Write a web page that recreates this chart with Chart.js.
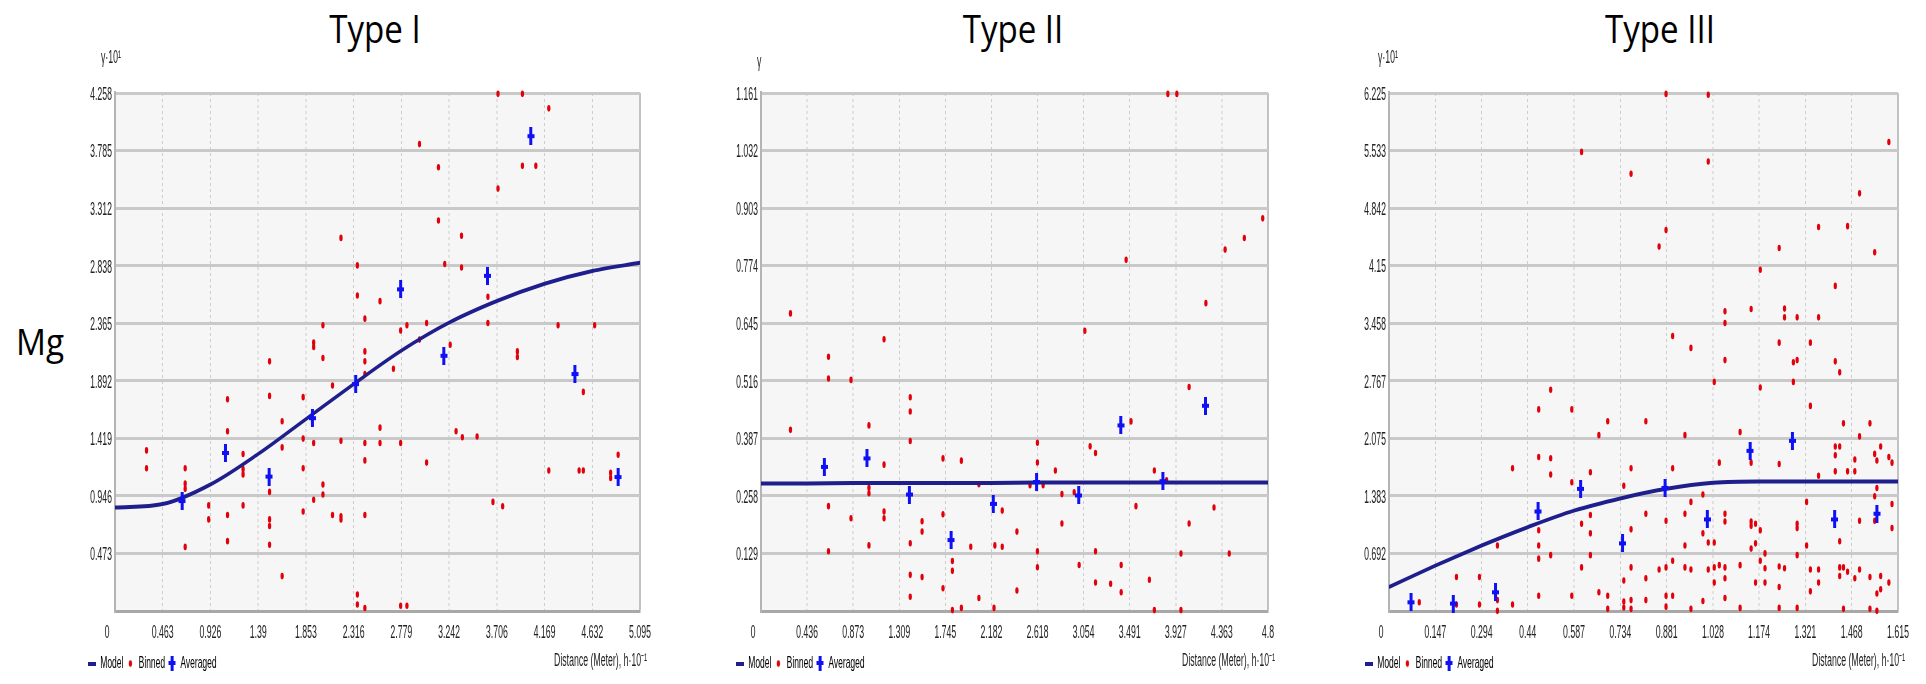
<!DOCTYPE html>
<html>
<head>
<meta charset="utf-8">
<script src="https://cdn.jsdelivr.net/npm/chart.js@4.4.1/dist/chart.umd.min.js"></script>
<style>
  html, body { margin: 0; padding: 0; background: #fff; }
  body { width: 1926px; height: 684px; position: relative; overflow: hidden; }
  .panel { position: absolute; top: 0; height: 684px; transform: scaleX(0.5); transform-origin: 0 0; }
  .panel canvas { display: block; }
  .title { position: absolute; top: 9px; width: 400px; text-align: center; font-family: 'Open Sans', sans-serif;
           font-size: 38px; line-height: 38px; color: #000; transform: scaleX(0.87); }
  .mg { position: absolute; left: 16px; top: 322px; font-family: 'Open Sans', sans-serif; font-size: 37px;
        line-height: 37px; color: #000; transform: scaleX(0.9); transform-origin: 0 0; }
</style>
</head>
<body>
<div class="title" style="left:175px">Type I</div>
<div class="title" style="left:813px">Type II</div>
<div class="title" style="left:1460px">Type III</div>
<div class="mg">Mg</div>
<div class="panel" style="left:85px;width:1180px"><canvas id="c1" width="1180" height="684"></canvas></div>
<div class="panel" style="left:733px;width:1130px"><canvas id="c2" width="1130" height="684"></canvas></div>
<div class="panel" style="left:1362px;width:1128px"><canvas id="c3" width="1128" height="684"></canvas></div>
<script>
// --- Type I ---
const t1XTicks = [0, 0.463, 0.926, 1.39, 1.853, 2.316, 2.779, 3.242, 3.706, 4.169, 4.632, 5.095];
const t1XLabels = ['0', '0.463', '0.926', '1.39', '1.853', '2.316', '2.779', '3.242', '3.706', '4.169', '4.632', '5.095'];
const t1YTicks = [0, 0.473, 0.946, 1.419, 1.892, 2.365, 2.838, 3.312, 3.785, 4.258];
const t1YLabels = ['', '0.473', '0.946', '1.419', '1.892', '2.365', '2.838', '3.312', '3.785', '4.258'];
const t1ModelX = [0, 0.463, 0.926, 1.39, 1.853, 2.316, 2.779, 3.242, 3.706, 4.169, 4.632, 5.095];
const t1ModelY = [0.850, 0.879, 1.040, 1.291, 1.578, 1.865, 2.140, 2.370, 2.548, 2.690, 2.795, 2.862];
const t1Binned = [[0.306,1.320],[0.306,1.173],[0.681,1.173],[0.681,1.047],[0.681,1.004],[0.681,0.527],[0.909,0.868],[0.909,0.753],
  [1.092,1.740],[1.092,1.478],[1.092,0.789],[1.092,0.574],[1.243,1.291],[1.243,1.166],[1.243,1.123],[1.243,0.868],
  [1.500,2.052],[1.500,1.768],[1.500,0.979],[1.500,0.753],[1.500,0.699],[1.500,0.545],[1.622,1.560],[1.622,1.345],[1.622,0.287],
  [1.826,1.758],[1.826,1.417],[1.826,1.173],[1.826,0.818],[1.928,2.206],[1.928,2.170],[1.928,1.381],[1.928,0.915],
  [2.018,2.349],[2.018,2.080],[2.018,1.040],[2.018,0.958],[2.111,1.854],[2.111,0.789],[2.193,3.067],[2.193,1.399],[2.193,0.778],[2.193,0.753],
  [2.352,2.841],[2.352,2.593],[2.352,0.136],[2.352,0.054],[2.425,2.403],[2.425,2.134],[2.425,2.052],[2.425,1.948],[2.425,1.381],
  [2.425,1.238],[2.425,0.789],[2.425,0.025],[2.572,2.547],[2.572,1.507],[2.572,1.381],[2.702,1.991],[2.772,2.306],[2.772,1.381],
  [2.772,0.043],[2.833,2.349],[2.833,0.043],[2.955,3.838],[2.955,2.231],[3.024,2.367],[3.024,1.220],[3.139,3.648],[3.139,3.210],
  [3.200,2.852],[3.253,2.188],[3.310,1.478],[3.363,3.085],[3.363,2.823],[3.371,1.428],[3.514,1.435],[3.619,2.583],[3.619,2.367],
  [3.668,0.897],[3.717,4.251],[3.717,3.472],[3.762,0.861],[3.905,2.134],[3.905,2.088],[3.954,4.251],[3.954,3.659],[4.084,3.659],
  [4.210,4.132],[4.210,1.155],[4.300,2.349],[4.504,1.155],[4.545,1.801],[4.545,1.155],[4.655,2.349],[4.810,1.137],[4.810,1.094],[4.883,1.284]];
const t1Avg = [[0.652,0.904],[1.072,1.299],[1.496,1.105],[1.916,1.585],[2.336,1.865],[2.772,2.644],[3.191,2.098],[3.615,2.755],
  [4.035,3.903],[4.463,1.948],[4.883,1.101]];

// --- Type II ---
const t2XTicks = [0, 0.436, 0.873, 1.309, 1.745, 2.182, 2.618, 3.054, 3.491, 3.927, 4.363, 4.8];
const t2XLabels = ['0', '0.436', '0.873', '1.309', '1.745', '2.182', '2.618', '3.054', '3.491', '3.927', '4.363', '4.8'];
const t2YTicks = [0, 0.129, 0.258, 0.387, 0.516, 0.645, 0.774, 0.903, 1.032, 1.161];
const t2YLabels = ['', '0.129', '0.258', '0.387', '0.516', '0.645', '0.774', '0.903', '1.032', '1.161'];
const t2ModelX = [0, 0.436, 0.873, 1.309, 1.745, 2.182, 2.618, 3.054, 3.491, 3.927, 4.363, 4.8];
const t2ModelY = [0.286, 0.286, 0.287, 0.287, 0.287, 0.287, 0.288, 0.288, 0.288, 0.288, 0.288, 0.288];
const t2Binned = [[0.279,0.667],[0.279,0.406],[0.639,0.570],[0.639,0.521],[0.639,0.235],[0.639,0.134],[0.852,0.518],[0.852,0.208],
  [1.022,0.416],[1.022,0.276],[1.022,0.264],[1.022,0.147],[1.165,0.609],[1.165,0.328],[1.165,0.223],[1.165,0.208],
  [1.413,0.479],[1.413,0.447],[1.413,0.381],[1.413,0.152],[1.413,0.081],[1.413,0.032],[1.525,0.201],[1.525,0.178],[1.525,0.076],
  [1.723,0.342],[1.723,0.217],[1.723,0.051],[1.812,0.112],[1.812,0.090],[1.812,0.002],[1.897,0.337],[1.897,0.007],[1.986,0.144],
  [2.063,0.284],[2.063,0.029],[2.206,0.007],[2.214,0.147],[2.284,0.225],[2.284,0.144],[2.423,0.178],[2.423,0.046],[2.547,0.282],
  [2.617,0.377],[2.617,0.333],[2.617,0.134],[2.617,0.098],[2.671,0.282],[2.787,0.315],[2.849,0.262],[2.849,0.196],[2.965,0.266],
  [3.012,0.103],[3.066,0.628],[3.116,0.369],[3.167,0.354],[3.167,0.134],[3.167,0.064],[3.310,0.061],[3.410,0.103],[3.410,0.042],
  [3.457,0.787],[3.503,0.425],[3.550,0.235],[3.677,0.070],[3.724,0.315],[3.724,0.002],[3.840,0.293],[3.852,1.159],[3.937,1.159],
  [3.976,0.129],[3.976,0.002],[4.053,0.502],[4.053,0.196],[4.212,0.690],[4.289,0.232],[4.394,0.810],[4.433,0.129],[4.576,0.836],[4.750,0.880]];
const t2Avg = [[0.600,0.323],[1.003,0.342],[1.405,0.261],[1.800,0.159],[2.199,0.240],[2.609,0.289],[3.008,0.259],[3.406,0.416],
  [3.805,0.291],[4.208,0.460]];

// --- Type III ---
const t3XTicks = [0, 0.147, 0.294, 0.44, 0.587, 0.734, 0.881, 1.028, 1.174, 1.321, 1.468, 1.615];
const t3XLabels = ['0', '0.147', '0.294', '0.44', '0.587', '0.734', '0.881', '1.028', '1.174', '1.321', '1.468', '1.615'];
const t3YTicks = [0, 0.692, 1.383, 2.075, 2.767, 3.458, 4.15, 4.842, 5.533, 6.225];
const t3YLabels = ['', '0.692', '1.383', '2.075', '2.767', '3.458', '4.15', '4.842', '5.533', '6.225'];
const t3ModelX = [0, 0.147, 0.294, 0.44, 0.587, 0.734, 0.881, 1.028, 1.174, 1.321, 1.468, 1.615];
const t3ModelY = [0.288, 0.545, 0.787, 1.007, 1.206, 1.353, 1.468, 1.540, 1.557, 1.557, 1.557, 1.557];
const t3Binned = [[0.096,0.105],[0.214,0.409],[0.214,0.079],[0.287,0.409],[0.287,0.079],[0.344,0.787],[0.344,0.131],[0.344,0.002],
  [0.392,1.715],[0.392,0.079],[0.475,2.423],[0.475,1.851],[0.475,0.970],[0.475,0.787],[0.475,0.629],[0.475,0.184],
  [0.513,2.659],[0.513,1.835],[0.513,1.641],[0.513,0.671],[0.580,2.423],[0.580,1.547],[0.580,0.184],[0.611,5.517],[0.611,1.049],
  [0.611,0.524],[0.639,1.668],[0.639,1.154],[0.639,0.933],[0.639,0.671],[0.666,2.113],[0.666,0.225],[0.694,2.281],[0.694,0.184],
  [0.694,0.026],[0.745,1.505],[0.745,0.367],[0.745,0.115],[0.745,0.042],[0.768,5.254],[0.768,1.715],[0.768,0.981],[0.768,0.524],
  [0.768,0.131],[0.768,0.026],[0.815,2.281],[0.815,1.169],[0.815,0.393],[0.815,0.131],[0.857,4.379],[0.857,0.498],[0.879,6.214],
  [0.879,4.578],[0.879,1.085],[0.879,0.524],[0.879,0.184],[0.879,0.052],[0.900,3.304],[0.900,1.715],[0.900,0.603],[0.900,0.184],
  [0.939,2.113],[0.939,1.169],[0.939,0.787],[0.939,0.524],[0.958,3.162],[0.958,1.311],[0.958,0.498],[0.958,0.026],[0.996,1.400],
  [0.996,0.933],[0.996,0.121],[1.013,6.204],[1.013,5.401],[1.013,0.823],[1.013,0.498],[1.032,2.753],[1.032,0.823],[1.032,0.524],
  [1.032,0.341],[1.048,1.783],[1.048,0.551],[1.066,3.603],[1.066,3.461],[1.066,3.015],[1.066,1.169],[1.066,1.075],[1.066,0.524],
  [1.066,0.393],[1.066,0.157],[1.114,2.150],[1.114,0.551],[1.114,0.037],[1.149,3.629],[1.149,1.783],[1.149,1.075],[1.149,1.023],
  [1.149,0.750],[1.163,1.049],[1.163,0.813],[1.163,0.341],[1.178,4.101],[1.178,2.685],[1.178,0.970],[1.178,0.603],[1.193,0.692],
  [1.193,0.514],[1.193,0.341],[1.238,4.363],[1.238,3.225],[1.238,1.767],[1.238,0.535],[1.238,0.288],[1.238,0.037],[1.255,3.634],
  [1.255,3.529],[1.255,0.514],[1.283,2.989],[1.283,2.753],[1.295,3.529],[1.295,3.015],[1.295,1.049],[1.295,0.996],[1.295,0.671],
  [1.295,0.037],[1.325,1.311],[1.325,0.787],[1.337,3.225],[1.337,2.465],[1.337,0.498],[1.337,0.236],[1.363,4.615],[1.363,3.529],
  [1.363,1.626],[1.363,0.498],[1.363,0.341],[1.416,3.907],[1.416,3.000],[1.416,1.977],[1.416,1.872],[1.416,1.678],[1.430,2.868],
  [1.430,1.977],[1.430,0.839],[1.430,0.524],[1.430,0.420],[1.442,2.255],[1.442,0.524],[1.442,0.026],[1.455,4.625],[1.455,1.678],
  [1.455,0.472],[1.478,1.820],[1.478,1.678],[1.478,0.393],[1.493,5.019],[1.493,2.098],[1.493,1.085],[1.493,0.498],[1.526,2.255],
  [1.526,0.409],[1.526,0.026],[1.541,4.311],[1.541,1.888],[1.541,1.379],[1.541,1.085],[1.548,1.809],[1.548,1.479],[1.548,0.210],
  [1.548,0.002],[1.560,1.977],[1.560,0.420],[1.560,0.262],[1.586,5.637],[1.586,0.341],[1.586,1.851],[1.596,1.783],[1.596,1.285],[1.596,0.996]];
const t3Avg = [[0.070,0.105],[0.204,0.089],[0.338,0.225],[0.473,1.196],[0.608,1.468],[0.741,0.813],[0.876,1.479],[1.010,1.101],
  [1.146,1.925],[1.280,2.045],[1.414,1.101],[1.548,1.169]];

const RED = '#e2000a';
const BLUE = '#1010f4';
const NAVY = '#1e1e8c';
const FONT = '"Liberation Sans", Arial, sans-serif';
const INK = '#222';

Chart.defaults.font.family = FONT;
Chart.defaults.font.size = 17.5;
Chart.defaults.color = INK;

// small marker pictures (drawn at double width, the panels are squeezed to half width)
function icon(w, h, draw) {
  const c = document.createElement('canvas');
  c.width = w; c.height = h;
  draw(c.getContext('2d'));
  return c;
}
const crossIcon = icon(14, 18, g => { g.fillStyle = BLUE; g.fillRect(4, 0, 6, 18); g.fillRect(0, 7, 14, 4); });
const crossLegend = icon(14, 15, g => { g.fillStyle = BLUE; g.fillRect(4, 0, 6, 15); g.fillRect(0, 5, 14, 4); });
const modelLegend = icon(16, 4, g => { g.fillStyle = NAVY; g.fillRect(0, 0, 16, 4); });
const dotLegend = icon(8, 8, g => { g.fillStyle = RED; g.beginPath(); g.arc(4, 4, 3.3, 0, Math.PI * 2); g.fill(); });

const panelText = {
  id: 'panelText',
  beforeDraw(chart) {
    const { ctx, chartArea: a } = chart;
    ctx.save();
    ctx.fillStyle = '#f6f6f6';
    ctx.fillRect(a.left, a.top, a.right - a.left, a.bottom - a.top);
    ctx.restore();
  },
  afterDraw(chart, args, opts) {
    const { ctx, chartArea: a, scales } = chart;
    ctx.save();
    ctx.font = '17.5px ' + FONT;
    ctx.fillStyle = INK;
    ctx.textBaseline = 'middle';
    ctx.textAlign = 'left';
    ctx.fillText(opts.gamma, a.left + opts.gammaDx, opts.gammaY);
    ctx.textAlign = 'center';
    ctx.fillText('0', scales.x.getPixelForValue(0) - 16, 633);
    ctx.textAlign = 'right';
    ctx.fillText('Distance (Meter), h·10⁻¹', a.right + 14, 661);
    ctx.restore();
  }
};

const toPts = arr => arr.map(p => ({ x: p[0], y: p[1] }));

function makePanel(id, o) {
  const lastX = o.xTicks.length - 1;
  new Chart(document.getElementById(id), {
    type: 'scatter',
    data: {
      datasets: [
        { label: 'Averaged', data: toPts(o.avg), pointStyle: crossIcon, pointRadius: 8, pointBorderWidth: 0, order: 0, clip: false },
        { label: 'Model', data: o.modelX.map((x, i) => ({ x: x, y: o.modelY[i] })), showLine: true, borderColor: NAVY,
          borderWidth: 4, pointRadius: 0, cubicInterpolationMode: 'monotone', fill: false, order: 1 },
        { label: 'Binned', data: toPts(o.binned), pointStyle: 'circle', pointRadius: 3.3, backgroundColor: RED,
          pointBorderWidth: 0, order: 2, clip: false }
      ]
    },
    options: {
      responsive: false,
      animation: false,
      events: [],
      layout: { padding: { left: 0, right: o.padRight, top: 93, bottom: 2 } },
      plugins: {
        tooltip: { enabled: false },
        legend: {
          position: 'bottom',
          align: 'start',
          labels: {
            usePointStyle: true, boxWidth: 16, boxHeight: 17, padding: 6, color: INK, font: { size: 17 },
            generateLabels: () => [
              { text: 'Model', pointStyle: modelLegend, datasetIndex: 1, lineWidth: 0 },
              { text: 'Binned', pointStyle: dotLegend, datasetIndex: 2, lineWidth: 0 },
              { text: 'Averaged', pointStyle: crossLegend, datasetIndex: 0, lineWidth: 0 }
            ]
          }
        },
        panelText: { gamma: o.gamma, gammaDx: o.gammaDx, gammaY: o.gammaY }
      },
      scales: {
        x: {
          type: 'linear', min: 0, max: o.xTicks[lastX],
          afterBuildTicks: s => { s.ticks = o.xTicks.map(v => ({ value: v })); },
          afterFit: s => { s.height = 38; },
          ticks: { autoSkip: false, maxRotation: 0, minRotation: 0, padding: 12, color: INK,
                   callback: (v, i) => (i === 0 ? '' : o.xLabels[i]) },
          grid: { drawTicks: false,
                  color: c => (c.index === lastX ? '#c2c2c2' : '#cdcdcd'),
                  lineWidth: c => (c.index === lastX ? 4 : 2) },
          border: { display: true, color: '#a8a8a8', width: 3,
                    dash: c => (c.type === 'tick' && c.index > 0 && c.index < lastX ? [3, 3] : []) }
        },
        y: {
          type: 'linear', min: 0, max: o.yTicks[o.yTicks.length - 1],
          afterBuildTicks: s => { s.ticks = o.yTicks.map(v => ({ value: v })); },
          afterFit: s => { s.width = o.left; },
          ticks: { padding: 6, labelOffset: 2, color: INK, callback: (v, i) => o.yLabels[i] },
          grid: { drawTicks: false, color: '#c9c9c9', lineWidth: 3 },
          border: { display: true, color: '#b4b4b4', width: 4 }
        }
      }
    },
    plugins: [panelText]
  });
}

makePanel('c1', { xTicks: t1XTicks, xLabels: t1XLabels, yTicks: t1YTicks, yLabels: t1YLabels, modelX: t1ModelX, modelY: t1ModelY,
  binned: t1Binned, avg: t1Avg, left: 60, padRight: 70, gamma: 'γ·10¹', gammaDx: -28, gammaY: 58 });
makePanel('c2', { xTicks: t2XTicks, xLabels: t2XLabels, yTicks: t2YTicks, yLabels: t2YLabels, modelX: t2ModelX, modelY: t2ModelY,
  binned: t2Binned, avg: t2Avg, left: 56, padRight: 60, gamma: 'γ', gammaDx: -8, gammaY: 62 });
makePanel('c3', { xTicks: t3XTicks, xLabels: t3XLabels, yTicks: t3YTicks, yLabels: t3YLabels, modelX: t3ModelX, modelY: t3ModelY,
  binned: t3Binned, avg: t3Avg, left: 54, padRight: 56, gamma: 'γ·10¹', gammaDx: -22, gammaY: 58 });
</script>
</body>
</html>
